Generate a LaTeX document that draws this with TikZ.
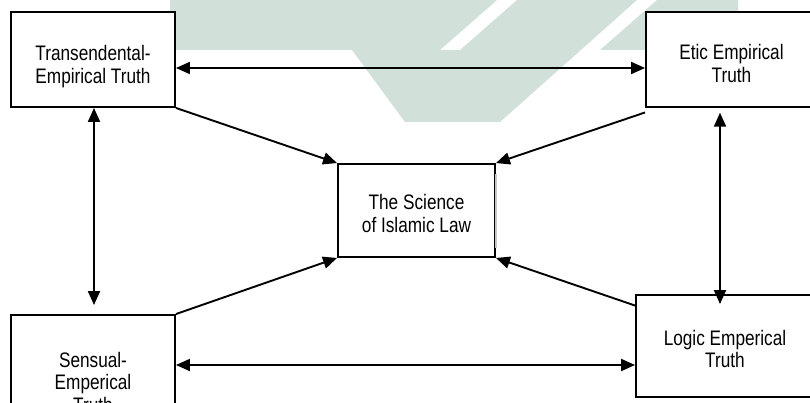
\documentclass[tikz,border=0pt]{standalone}
\usepackage{fontspec}
\setmainfont{Liberation Sans}[FakeStretch=0.82]
\usetikzlibrary{arrows.meta}
\definecolor{wmark}{RGB}{209,225,218}
\begin{document}
\begin{tikzpicture}[x=1pt,y=-1pt,
  box/.style={draw=black, fill=white, line width=1.9pt, rectangle, inner sep=0pt},
  txt/.style={align=center, inner sep=0pt, font=\fontsize{21}{22.7}\selectfont},
  link/.style={line width=1.9pt, -{Triangle[length=14pt,width=12pt]}},
  both/.style={line width=1.9pt, {Triangle[length=14pt,width=12pt]}-{Triangle[length=14pt,width=12pt]}},
]
\useasboundingbox (0,0) rectangle (810,403);
\clip (0,0) rectangle (810,403);
\fill[white] (0,0) rectangle (810,403);

% faint emblem behind the chart
\fill[wmark] (170,0) -- (497,0) -- (440,50) -- (170,50) -- cycle;
\fill[wmark] (517,0) -- (637,0) -- (500,122) -- (405,122) -- (352,50) -- (460,50) -- cycle;
\fill[wmark] (657,0) -- (738,0) -- (738,50) -- (600,50) -- cycle;

% boxes
\node[box, minimum width=164pt, minimum height=95pt] (tl) at (93,59.5) {};
\node[box, minimum width=171pt, minimum height=95pt] (tr) at (731.5,59.5) {};
\node[box, minimum width=157pt, minimum height=93pt] (sci) at (416.5,210.5) {};
\node[box, minimum width=164pt, minimum height=140pt] (bl) at (93,385) {};
\node[box, minimum width=178pt, minimum height=102pt] (br) at (725,346) {};
\draw[gray!45, line width=1.6pt] ([yshift=-11pt]sci.north east) -- ([yshift=10pt]sci.south east);

% labels
\node[txt] (tl-t) at (93,66.3) {Transendental-\\Empirical Truth};
\node[txt] (tr-t) at (731.5,63.4) {Etic Empirical\\Truth};
\node[txt] (sci-t) at (416.5,213.5) {The Science\\of Islamic Law};
\node[txt] (bl-t) at (93,382.2) {Sensual-\\Emperical\\Truth};
\node[txt] (br-t) at (725,348.9) {Logic Emperical\\Truth};

% connectors
\draw[both] ([yshift=-8.5pt]tl.east) -- ([yshift=-8.5pt]tl.east -| tr.west);
\draw[both] ([yshift=20pt]bl.east) -- ([yshift=20pt]bl.east -| br.west);
\draw[both] ([xshift=1pt]tl.south) -- ([xshift=1pt,yshift=9pt]bl.north);
\draw[both] ([xshift=-11.5pt,yshift=-4.7pt]tr.south) -- ([xshift=-5pt,yshift=-10pt]br.north);
\draw[link] (tl.south east) -- (sci.north west);
\draw[link] ([yshift=-4.5pt]tr.south west) -- (sci.north east);
\draw[link] (bl.north east) -- (sci.south west);
\draw[link] ([yshift=-11.5pt]br.north west) -- (sci.south east);
\end{tikzpicture}
\end{document}
